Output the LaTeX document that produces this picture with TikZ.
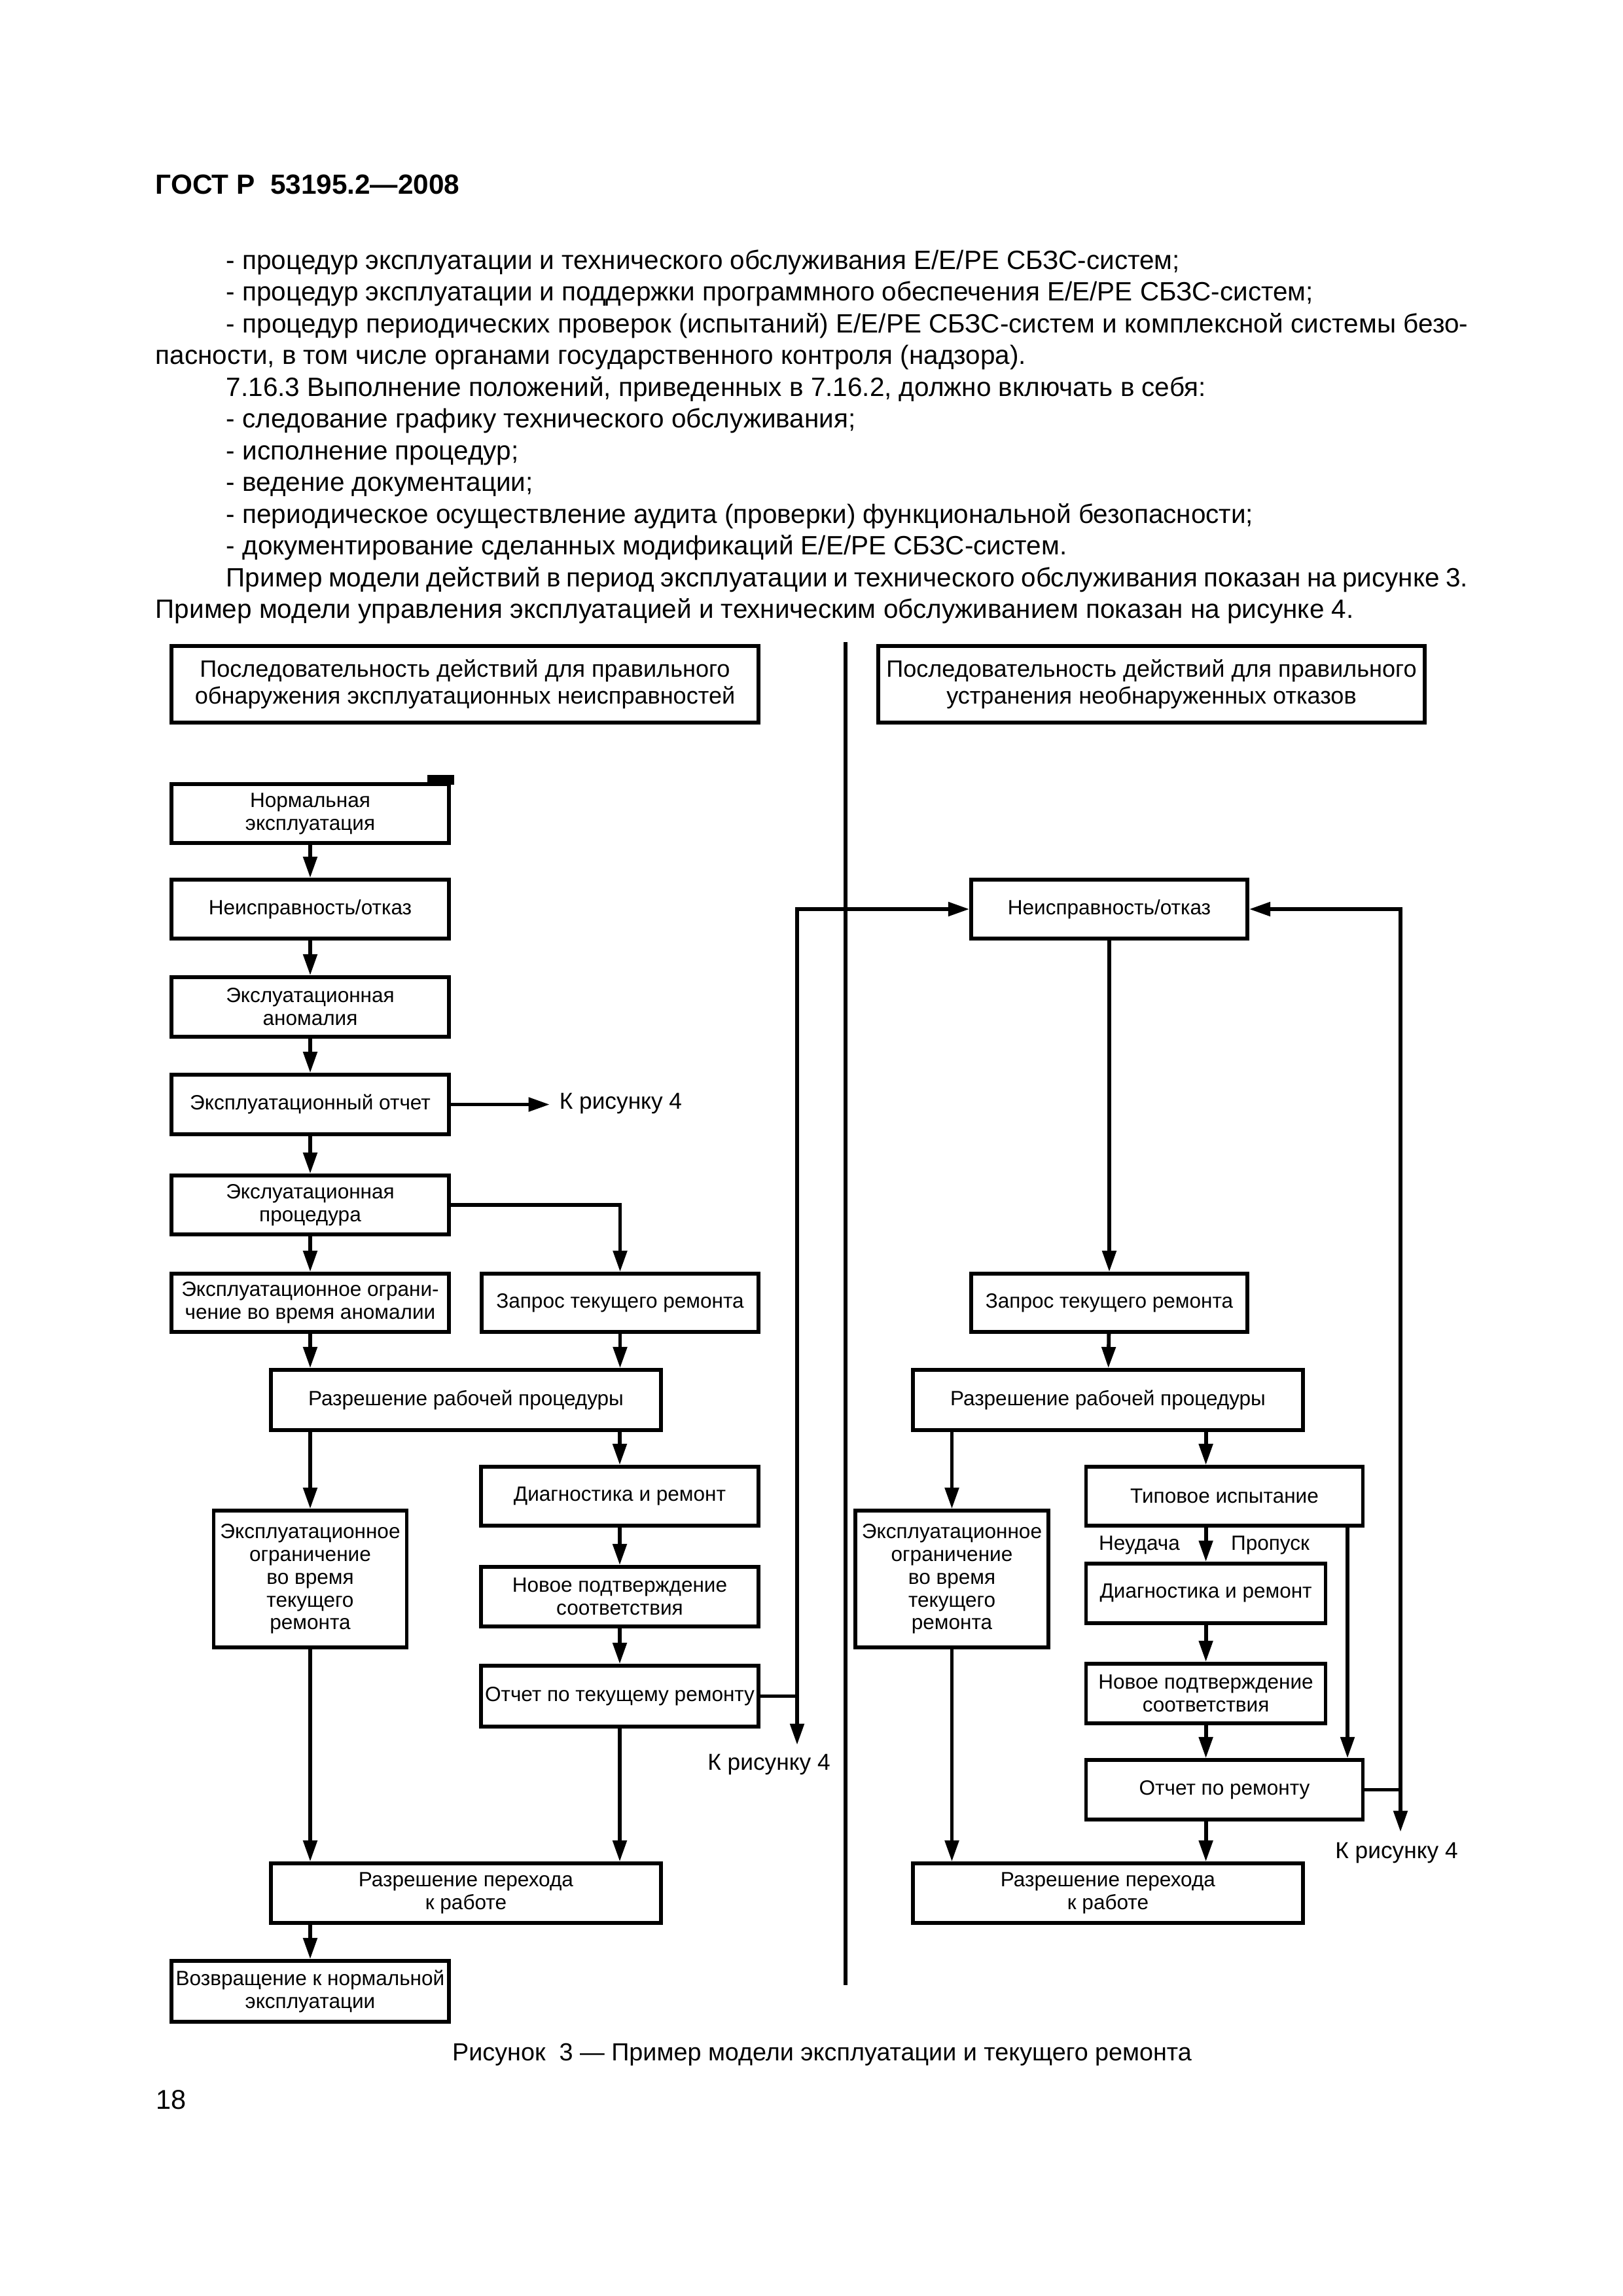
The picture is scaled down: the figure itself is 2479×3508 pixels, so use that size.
\documentclass[tikz,border=0pt]{standalone}
\usepackage{fontspec}
\setmainfont{Liberation Sans}
\usetikzlibrary{arrows.meta}
\newdimen\px \px=0.084712mm
\begin{document}
\begin{tikzpicture}[x=0.084712mm,y=-0.084712mm,
  box/.style={draw,line width=1.3pt,inner sep=0pt,align=center,font=\fontsize{7.6}{8.4}\selectfont},
  hbox/.style={box,font=\fontsize{8.7}{9.8}\selectfont},
  conn/.style={line width=1.4pt},
  arr/.style={conn,-{Triangle[length=7.8pt,width=5pt]}},
  body/.style={anchor=base west,inner sep=0pt,font=\fontsize{9.75}{12}\selectfont},
  lbl/.style={inner sep=0pt,font=\fontsize{7.6}{8.4}\selectfont},
  fig/.style={inner sep=0pt,font=\fontsize{8.5}{10}\selectfont}]
\useasboundingbox (0,0) rectangle (2479,3508);
\fill[white] (0,0) rectangle (2479,3508);
% page text
\node[anchor=base west,inner sep=0pt,font=\bfseries\fontsize{10.2}{12}\selectfont] (ttl) at (237,296) {ГОСТ Р~~53195.2—2008};
\node[body] (t1) at (345,411) {- процедур эксплуатации и технического обслуживания E/E/PE СБЗС-систем;};
\node[body] (t2) at (345,459) {- процедур эксплуатации и поддержки программного обеспечения E/E/PE СБЗС-систем;};
\node[body] (t3) at (345,508) {\makebox[1897\px][s]{- процедур периодических проверок (испытаний) E/E/PE СБЗС-систем и комплексной системы безо-}};
\node[body] (t4) at (237,556) {пасности, в том числе органами государственного контроля (надзора).};
\node[body] (t5) at (345,605) {7.16.3 Выполнение положений, приведенных в 7.16.2, должно включать в себя:};
\node[body] (t6) at (345,653) {- следование графику технического обслуживания;};
\node[body] (t7) at (345,702) {- исполнение процедур;};
\node[body] (t8) at (345,750) {- ведение документации;};
\node[body] (t9) at (345,799) {- периодическое осуществление аудита (проверки) функциональной безопасности;};
\node[body] (t10) at (345,847) {- документирование сделанных модификаций E/E/PE СБЗС-систем.};
\node[body] (t11) at (345,896) {\makebox[1897\px][s]{Пример модели действий в период эксплуатации и технического обслуживания показан на рисунке 3.}};
\node[body] (t12) at (237,944) {Пример модели управления эксплуатацией и техническим обслуживанием показан на рисунке 4.};
% divider
\coordinate (dv1) at (1292,981);
\coordinate (dv2) at (1292,3033);
\draw[conn] (dv1) -- (dv2);
% left column
\node[hbox,minimum width=897\px,minimum height=117\px] (hL) at (710.5,1045.5) {Последовательность действий для правильного\\обнаружения эксплуатационных неисправностей};
\node[box,minimum width=424\px,minimum height=90\px] (n1) at (474,1243) {Нормальная\\эксплуатация};
\fill (653,1184) rectangle (694,1199);
\node[box,minimum width=424\px,minimum height=90\px] (n2) at (474,1389) {Неисправность/отказ};
\node[box,minimum width=424\px,minimum height=91\px] (n3) at (474,1538.5) {Экслуатационная\\аномалия};
\node[box,minimum width=424\px,minimum height=91\px] (n4) at (474,1687.5) {Эксплуатационный отчет};
\node[box,minimum width=424\px,minimum height=90\px] (n5) at (474,1841) {Экслуатационная\\процедура};
\node[box,minimum width=424\px,minimum height=89\px] (n6) at (474,1990.5) {Эксплуатационное ограни-\\чение во время аномалии};
\node[box,minimum width=423\px,minimum height=89\px] (n7) at (947.5,1990.5) {Запрос текущего ремонта};
\node[box,minimum width=596\px,minimum height=92\px] (n8) at (712,2139) {Разрешение рабочей процедуры};
\node[box,minimum width=424\px,minimum height=90\px] (n9) at (947,2286) {Диагностика и ремонт};
\node[box,minimum width=295\px,minimum height=209\px] (n10) at (474,2412.5) {Эксплуатационное\\ограничение\\во время\\текущего\\ремонта};
\node[box,minimum width=424\px,minimum height=91\px] (n11) at (947,2439.5) {Новое подтверждение\\соответствия};
\node[box,minimum width=424\px,minimum height=93\px] (n12) at (947,2591.5) {Отчет по текущему ремонту};
\node[box,minimum width=596\px,minimum height=91\px] (n13) at (712,2892.5) {Разрешение перехода\\к работе};
\node[box,minimum width=424\px,minimum height=93\px] (n14) at (474,3042.5) {Возвращение к нормальной\\эксплуатации};
\node[fig,anchor=west] (k1) at (854,1686) {К рисунку 4};
\node[fig] (k2) at (1175,2696) {К рисунку 4};
% right column
\node[hbox,minimum width=835\px,minimum height=117\px] (hR) at (1759.5,1045.5) {Последовательность действий для правильного\\устранения необнаруженных отказов};
\node[box,minimum width=422\px,minimum height=90\px] (r1) at (1695,1389) {Неисправность/отказ};
\node[box,minimum width=422\px,minimum height=89\px] (r2) at (1695,1990.5) {Запрос текущего ремонта};
\node[box,minimum width=596\px,minimum height=92\px] (r3) at (1693,2139) {Разрешение рабочей процедуры};
\node[box,minimum width=295\px,minimum height=209\px] (r4) at (1454.5,2412.5) {Эксплуатационное\\ограничение\\во время\\текущего\\ремонта};
\node[box,minimum width=423\px,minimum height=90\px] (r5) at (1871,2286) {Типовое испытание};
\node[box,minimum width=366\px,minimum height=91\px] (r6) at (1842.6,2434.3) {Диагностика и ремонт};
\node[box,minimum width=366\px,minimum height=91\px] (r7) at (1842.6,2587.3) {Новое подтверждение\\соответствия};
\node[box,minimum width=423\px,minimum height=91\px] (r8) at (1871,2734.5) {Отчет по ремонту};
\node[box,minimum width=596\px,minimum height=91\px] (r9) at (1693,2892.5) {Разрешение перехода\\к работе};
\node[lbl] (fail) at (1741,2361) {Неудача};
\node[lbl] (pass) at (1941,2361) {Пропуск};
\node[fig] (k3) at (2134,2831) {К рисунку 4};
% caption, page number
\node[inner sep=0pt,font=\fontsize{9.1}{11}\selectfont] (cap) at (1256,3139) {Рисунок~~3 — Пример модели эксплуатации и текущего ремонта};
\node[anchor=west,inner sep=0pt,font=\fontsize{10}{12}\selectfont] (pg) at (238,3208) {18};
% left connectors
\draw[arr] (n1) -- (n2);
\draw[arr] (n2) -- (n3);
\draw[arr] (n3) -- (n4);
\draw[arr] (n4) -- (n5);
\draw[arr] (n5) -- (n6);
\coordinate (k1a) at (840,1687.5);
\draw[arr] (n4.east) -- (k1a);
\draw[arr] (n5.east) -| (n7.north);
\draw[arr] (n6.south) -- (n6.south |- n8.north);
\draw[arr] (n7.south) -- (n7.south |- n8.north);
\draw[arr] (n10.north |- n8.south) -- (n10.north);
\draw[arr] (n9.north |- n8.south) -- (n9.north);
\draw[arr] (n9) -- (n11);
\draw[arr] (n11) -- (n12);
\draw[arr] (n10.south) -- (n10.south |- n13.north);
\draw[arr] (n12.south) -- (n12.south |- n13.north);
\draw[arr] (n14.north |- n13.south) -- (n14.north);
\coordinate (kL) at (1218,2666);
\draw[arr] (n12.east) -| (kL);
\draw[arr] (n12.east -| kL) |- (r1.west);
% right connectors
\draw[arr] (r1) -- (r2);
\draw[arr] (r2) -- (r3);
\draw[arr] (r4.north |- r3.south) -- (r4.north);
\draw[arr] (r6.north |- r3.south) -- (r6.north |- r5.north);
\draw[arr] (r6.north |- r5.south) -- (r6.north);
\draw[arr] (r6) -- (r7);
\draw[arr] (r7.south) -- (r7.south |- r8.north);
\coordinate (pr) at (2059,2500);
\draw[arr] (r5.south -| pr) -- (r8.north -| pr);
\draw[arr] (r4.south) -- (r4.south |- r9.north);
\draw[arr] (r7.south |- r8.south) -- (r7.south |- r9.north);
\coordinate (kR) at (2140,2799);
\draw[arr] (r8.east) -| (kR);
\draw[arr] (r8.east -| kR) |- (r1.east);
\end{tikzpicture}
\end{document}
